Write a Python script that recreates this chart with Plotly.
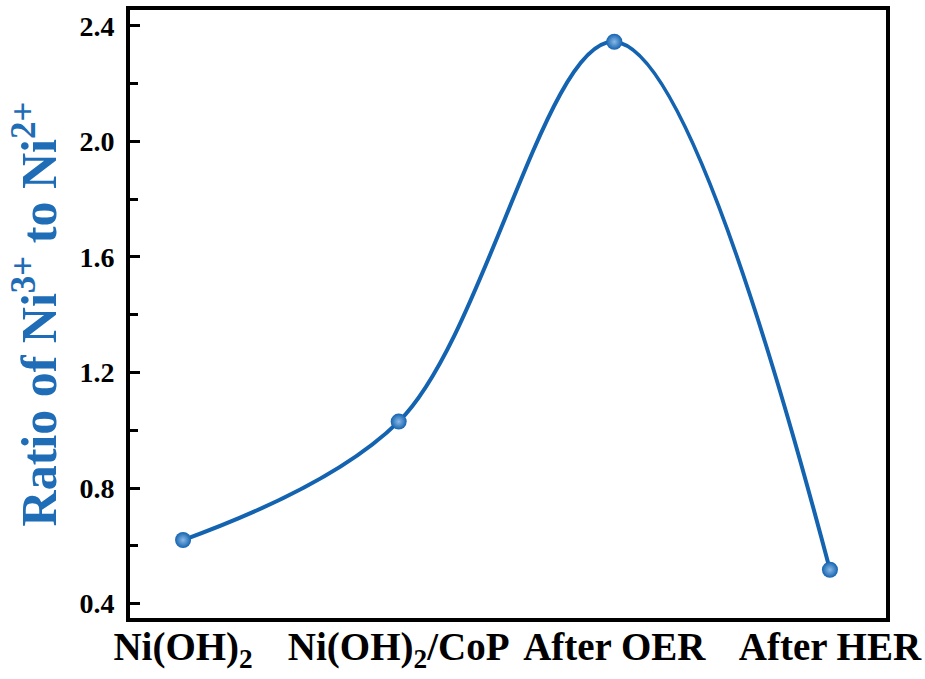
import plotly.graph_objects as go

# Sample states and their Ni3+/Ni2+ ratio
samples = ["Ni(OH)<sub>2</sub>", "Ni(OH)<sub>2</sub>/CoP", "After OER", "After HER"]
positions = [0, 1, 2, 3]
ratio = [0.62, 1.03, 2.345, 0.517]

y_ticks = [0.4, 0.8, 1.2, 1.6, 2.0, 2.4]
y_tick_text = ["0.4", "0.8", "1.2", "1.6", "2.0", "2.4"]

BLUE = "#1463b0"
TITLE_BLUE = "#1f6db6"
SERIF = "Liberation Serif"

fig = go.Figure()
fig.add_trace(go.Scatter(
    x=positions,
    y=ratio,
    mode="lines+markers",
    line=dict(color=BLUE, width=4, shape="spline", smoothing=1.0),
    marker=dict(
        size=16,
        color=BLUE,
        gradient=dict(type="radial", color="#8ab9e6"),
        line=dict(width=0),
    ),
    showlegend=False,
    hoverinfo="skip",
))

fig.update_layout(
    width=925,
    height=679,
    margin=dict(l=130, r=39, t=10, b=61),
    paper_bgcolor="white",
    plot_bgcolor="white",
    font=dict(family=SERIF, color="black"),
    xaxis=dict(
        range=[-0.246, 3.26],
        tickmode="array",
        tickvals=positions,
        ticktext=samples,
        tickangle=0,
        ticks="",
        tickfont=dict(family=SERIF, size=39, weight="bold", color="black"),
        showgrid=False,
        zeroline=False,
        showline=True,
        linecolor="black",
        linewidth=4,
        mirror=True,
        ticklabelstandoff=-9,
        automargin=False,
    ),
    yaxis=dict(
        range=[0.35, 2.455],
        tickmode="array",
        tickvals=y_ticks,
        ticktext=y_tick_text,
        ticks="inside",
        ticklen=10,
        tickwidth=3,
        tickcolor="black",
        minor=dict(dtick=0.2, tick0=0.2, ticks="inside", ticklen=8,
                   tickwidth=3, tickcolor="black", showgrid=False),
        tickfont=dict(family=SERIF, size=28, weight="bold", color="black"),
        showgrid=False,
        zeroline=False,
        showline=True,
        linecolor="black",
        linewidth=4,
        mirror=True,
        ticklabelstandoff=6,
        automargin=False,
        title=dict(
            text="Ratio of Ni<sup>3+</sup> to Ni<sup>2+</sup>",
            font=dict(family=SERIF, size=50, weight="bold", color=TITLE_BLUE),
            standoff=8,
        ),
    ),
)

fig.write_html("out.html")
